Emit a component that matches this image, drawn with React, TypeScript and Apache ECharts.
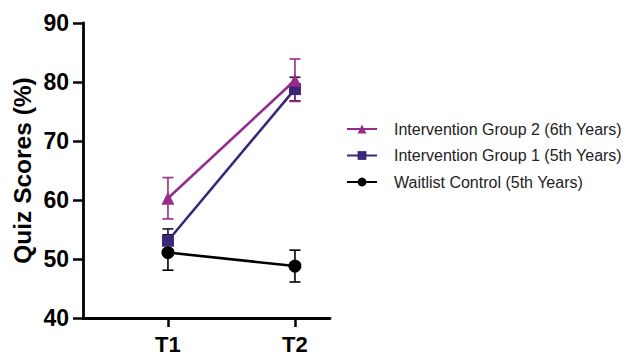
import React, { useEffect, useRef } from "react";
import * as echarts from "echarts";

const timepoints = ["T1", "T2"];
const xPositions = [1, 2];
const group2Means = [60.3, 80.3];
const group2Err = [3.5, 3.6];
const group1Means = [53.1, 78.8];
const group1Err = [2.0, 2.0];
const controlMeans = [51.1, 48.8];
const controlErr = [3.0, 2.7];
const yTicks = [40, 50, 60, 70, 80, 90];

const C2 = "#962b8c";
const C1 = "#3b2777";
const C0 = "#000000";
const FONT = "Liberation Sans, Arial, sans-serif";

function errData(means: number[], errs: number[]) {
  return means.map((m, i) => [xPositions[i], m - errs[i], m + errs[i]]);
}

function errSeries(name: string, means: number[], errs: number[], color: string, z: number) {
  return {
    type: "custom",
    name: name + " err",
    z,
    silent: true,
    data: errData(means, errs),
    renderItem: (params: any, api: any) => {
      const x = api.value(0);
      const lo = api.coord([x, api.value(1)]);
      const hi = api.coord([x, api.value(2)]);
      const hw = 5.5;
      const style = { stroke: color, lineWidth: 1.6 };
      return {
        type: "group",
        children: [
          { type: "line", shape: { x1: lo[0], y1: lo[1], x2: hi[0], y2: hi[1] }, style },
          { type: "line", shape: { x1: lo[0] - hw, y1: lo[1], x2: lo[0] + hw, y2: lo[1] }, style },
          { type: "line", shape: { x1: hi[0] - hw, y1: hi[1], x2: hi[0] + hw, y2: hi[1] }, style },
        ],
      };
    },
  };
}

function lineSeries(name: string, means: number[], color: string, symbol: string, size: number, z: number) {
  return {
    type: "line",
    name,
    z,
    data: means.map((m, i) => [xPositions[i], m]),
    symbol,
    symbolSize: size,
    lineStyle: { color, width: 2.6 },
    itemStyle: { color },
  };
}

export default function App() {
  const ref = useRef<HTMLDivElement>(null);
  useEffect(() => {
    const chart = echarts.init(ref.current!, undefined, { renderer: "svg" });
    const labelFont = { fontFamily: FONT, fontWeight: "bold" as const, fontSize: 23, color: "#000" };
    chart.setOption({
      animation: false,
      grid: { left: 83, right: 293, top: 23, bottom: 34 },
      xAxis: {
        type: "value",
        min: 0.331,
        max: 2.276,
        splitLine: { show: false },
        axisLine: { show: true, lineStyle: { color: "#000", width: 2.8 } },
        axisTick: { show: true, length: 9, lineStyle: { color: "#000", width: 2.5 }, customValues: xPositions },
        axisLabel: {
          ...labelFont,
          fontSize: 22,
          margin: 15,
          customValues: xPositions,
          formatter: (v: number) => timepoints[xPositions.indexOf(v)] ?? "",
        },
      },
      yAxis: {
        type: "value",
        min: 40,
        max: 90,
        interval: 10,
        splitLine: { show: false },
        axisLine: { show: true, lineStyle: { color: "#000", width: 2.8 } },
        axisTick: { show: true, length: 10, lineStyle: { color: "#000", width: 2.5 } },
        axisLabel: { ...labelFont, margin: 14, formatter: (v: number) => (yTicks.includes(v) ? String(v) : "") },
        name: "Quiz Scores (%)",
        nameLocation: "middle",
        nameGap: 48,
        nameTextStyle: { fontFamily: FONT, fontWeight: "bold", fontSize: 24.5, color: "#000" },
      },
      legend: {
        orient: "vertical",
        left: 341,
        top: 116,
        itemWidth: 30,
        itemHeight: 11,
        itemGap: 10.5,
        data: [
          "Intervention Group 2 (6th Years)",
          "Intervention Group 1 (5th Years)",
          "Waitlist Control (5th Years)",
        ],
        textStyle: { fontFamily: FONT, fontSize: 16, color: "#222", padding: [0, 0, 0, 12] },
      },
      series: [
        errSeries("Waitlist Control (5th Years)", controlMeans, controlErr, C0, 2),
        errSeries("Intervention Group 1 (5th Years)", group1Means, group1Err, "#1a1430", 2),
        errSeries("Intervention Group 2 (6th Years)", group2Means, group2Err, C2, 2),
        lineSeries("Waitlist Control (5th Years)", controlMeans, C0, "circle", 13, 3),
        lineSeries("Intervention Group 1 (5th Years)", group1Means, C1, "rect", 12, 4),
        lineSeries("Intervention Group 2 (6th Years)", group2Means, C2, "triangle", 13, 5),
      ],
    });
    return () => chart.dispose();
  }, []);
  return <div ref={ref} style={{ width: 623, height: 355, position: "absolute", left: 0, top: 0 }} />;
}
